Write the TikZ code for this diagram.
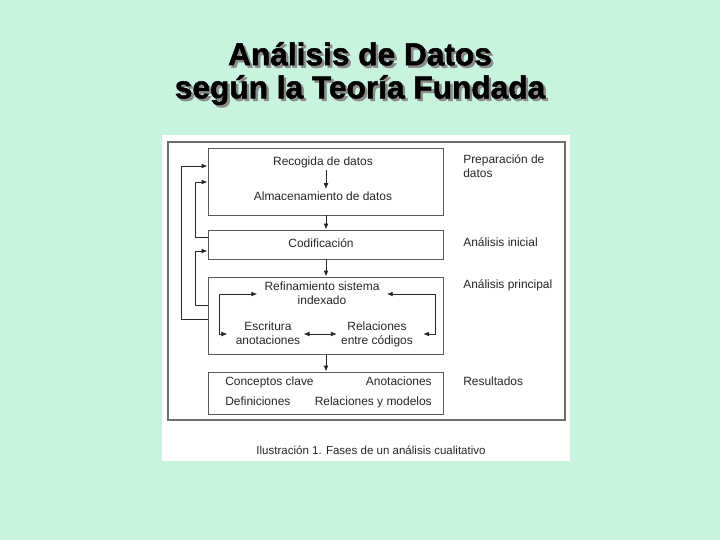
\documentclass[tikz,border=0pt]{standalone}
\usepackage{fontspec}
\setmainfont{Liberation Sans}
\newfontfamily\heavyfont{Liberation Sans}[BoldFeatures={FakeBold=1.6}]
\usetikzlibrary{positioning,arrows.meta}
\definecolor{SlideGreen}{HTML}{C8F3DF}
\definecolor{BoxLine}{HTML}{5A5A5A}
\definecolor{FrameLine}{HTML}{6E6E6E}
\definecolor{ShadowGray}{HTML}{8A8A8A}

\begin{document}
\begin{tikzpicture}[x=0.025cm,y=-0.025cm,>={Latex[length=1.5mm,width=1.2mm]},font=\fontsize{8.5}{10}\selectfont]
      \tikzstyle{stage}=[draw=BoxLine,line width=.7pt,fill=white]
      \tikzstyle{txt}=[inner sep=0pt,align=center,text=black!85]
      \tikzstyle{word}=[txt,text height=6.2pt,text depth=1.8pt]
      \tikzstyle{side}=[inner sep=0pt,anchor=west,align=left,text=black!85]
      \tikzstyle{flow}=[->,line width=.6pt,black!85]
      \tikzstyle{ttl}=[font=\fontsize{22.5}{23.5}\selectfont\heavyfont\bfseries,align=center,inner sep=0pt]
      \path[fill=SlideGreen] (0,0) rectangle (720,540);
      \node[ttl,text=ShadowGray] at (362.5,76) {Análisis de Datos\\según la Teoría Fundada};
      \node[ttl] (title) at (360,73.5) {Análisis de Datos\\según la Teoría Fundada};
      \fill[white] (162,135) rectangle (570,461);
      \draw[FrameLine,line width=.8pt] (168,142) rectangle (565,420);
      \node[stage,minimum width=235*0.025cm,minimum height=67*0.025cm] (prep) at (325.5,181.5) {};
      \node[stage,minimum width=235*0.025cm,minimum height=29*0.025cm] (codif) at (325.5,244.5) {};
      \node[stage,minimum width=235*0.025cm,minimum height=77*0.025cm] (princ) at (325.5,315.5) {};
      \node[stage,minimum width=235*0.025cm,minimum height=42*0.025cm] (res) at (325.5,393) {};
      \node[word] (recog) at (323,162) {Recogida de datos};
      \node[word] (almac) at (323,197) {Almacenamiento de datos};
      \node[word] (cod) at (321,244) {Codificación};
      \node[txt,inner xsep=7pt*0.71] (refin) at (322,294) {Refinamiento sistema\\indexado\vphantom{g}};
      \node[txt] (escr) at (268,334) {Escritura\\anotaciones\vphantom{g}};
      \node[txt] (relac) at (377,334) {Relaciones\\entre códigos};
      \node[word,anchor=west] (concl) at (225,382) {Conceptos clave};
      \node[word,anchor=east] (anot) at (432,382) {Anotaciones};
      \node[word,anchor=west] (defin) at (225,402) {Definiciones};
      \node[word,anchor=east] (modl) at (432,402) {Relaciones y modelos};
      \node[side] (lprep) at (463,166) {Preparación de\\datos};
      \node[side] (lini) at (463,242) {Análisis inicial};
      \node[side] (lprin) at (463,285) {Análisis principal};
      \node[side] (lres) at (463,381) {Resultados};
      \node[font=\fontsize{8.2}{10}\selectfont,text=black!85] (capt) at (371,450) {Ilustración 1. Fases de un análisis cualitativo};
      \draw[flow,shorten <=2*0.025cm,shorten >=2*0.025cm] (recog.south -| 326,0) -- (almac.north -| 326,0);
      \draw[flow] (prep.south -| 326,0) -- (codif.north -| 326,0);
      \draw[flow] (codif.south -| 326,0) -- (princ.north -| 326,0);
      \draw[flow] (princ.south -| 326,0) -- (res.north -| 326,0);
      \draw[flow] (codif.west |- 0,237) -| (195,182) -- (prep.west |- 0,182);
      \draw[flow] (princ.west |- 0,305) -| (195,251) -- (codif.west |- 0,251);
      \draw[flow] (princ.west |- 0,319) -| (181,166) -- (prep.west |- 0,166);
      \draw[<->,line width=.6pt,black!85] (refin.west) -| (219,334) -- ([xshift=-8*0.025cm]escr.west);
      \draw[<->,line width=.6pt,black!85] (refin.east) -| (435,334) -- ([xshift=10*0.025cm]relac.east);
      \draw[<->,line width=.6pt,black!85] ([xshift=3*0.025cm]escr.east) -- ([xshift=-4*0.025cm]relac.west);
    \end{tikzpicture}
\end{document}
